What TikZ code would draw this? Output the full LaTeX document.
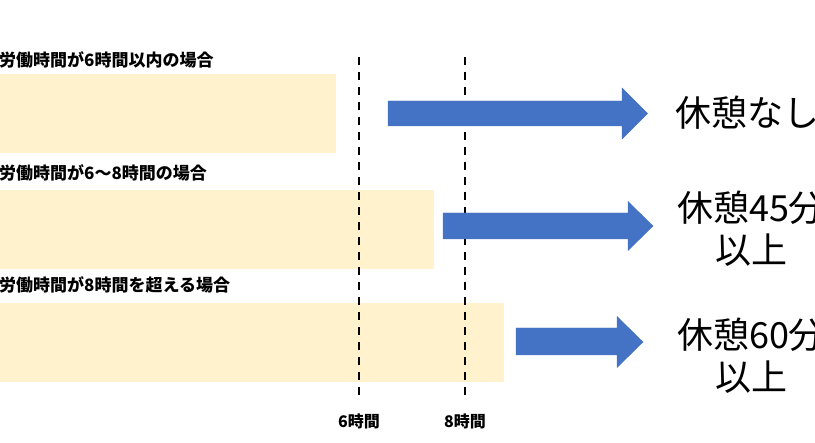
\documentclass[tikz,border=0pt]{standalone}
\usepackage{fontspec}
\setmainfont{Noto Sans CJK JP}
\usepackage{tikz}

\definecolor{barfill}{HTML}{FFF2CC}
\definecolor{arrowblue}{HTML}{4472C4}

\begin{document}
\begin{tikzpicture}[x=1pt, y=-1pt,
  bar/.style={rectangle, fill=barfill, anchor=north west, minimum height=79pt, inner sep=0pt},
  case/.style={anchor=west, inner sep=0pt, font=\fontsize{17}{20}\selectfont\bfseries},
  rest/.style={align=center, inner sep=0pt, font=\fontsize{36}{42}\selectfont},
  hour/.style={font=\fontsize{16}{18}\selectfont\bfseries},
  limit/.style={line width=1.6pt, dash pattern=on 8pt off 7pt},
  bigarrow/.style={fill=arrowblue, draw=arrowblue, line width=0.4pt, line join=miter}]
\useasboundingbox (0,0) rectangle (815,443);
\clip (0,0) rectangle (815,443);

% cases
\node[case] at (-1,60) (c1) {労働時間が6時間以内の場合};
\node[case] at (-1,173) (c2) {労働時間が6～8時間の場合};
\node[case] at (-1,285) (c3) {労働時間が8時間を超える場合};

\node[bar, minimum width=336pt] at (0,74) (bar1) {};
\node[bar, minimum width=434pt] at (0,190) (bar2) {};
\node[bar, minimum width=504pt] at (0,303) (bar3) {};

% hour limits
\node[hour] at (359,421) (h6) {6時間};
\node[hour] at (465,421) (h8) {8時間};
\coordinate (t6) at (359,57);
\coordinate (t8) at (465,57);
\draw[limit, shorten >=10pt] (t6) -- (h6.north);
\draw[limit, shorten >=10pt] (t8) -- (h8.north);

% results
\draw[bigarrow] (388,101) -- (622,101) -- (622,88) -- (647.5,113.5) -- (622,139) -- (622,126) -- (388,126) -- cycle;
\draw[bigarrow] (443,213) -- (628,213) -- (628,201.5) -- (653,226) -- (628,250.5) -- (628,239) -- (443,239) -- cycle;
\draw[bigarrow] (516,328) -- (617,328) -- (617,316.5) -- (643,342) -- (617,367.5) -- (617,355) -- (516,355) -- cycle;

\node[rest, anchor=west] at (675,113) (r1) {休憩なし};
\node[rest] at (751,229) (r2) {休憩45分\\以上};
\node[rest] at (751,356) (r3) {休憩60分\\以上};

\end{tikzpicture}
\end{document}
